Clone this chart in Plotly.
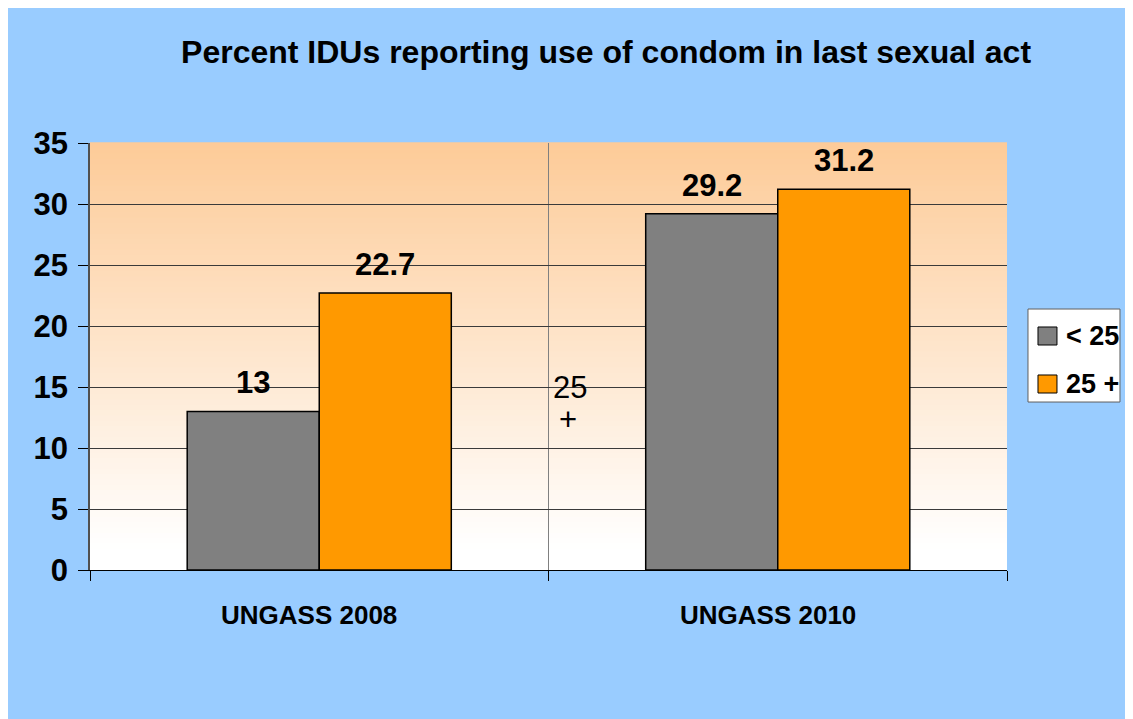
import plotly.graph_objects as go

# chart data
categories = ["UNGASS 2008", "UNGASS 2010"]
series_names = ["< 25", "25 +"]
under_25 = [13, 29.2]
over_25 = [22.7, 31.2]
label_under_25 = ["13", "29.2"]
label_over_25 = ["22.7", "31.2"]

colors = ["#808080", "#FF9900"]
font_family = "Arial, Liberation Sans, sans-serif"

fig = go.Figure()
for name, vals, col in zip(series_names, [under_25, over_25], colors):
    fig.add_trace(go.Bar(
        name=name,
        x=categories,
        y=vals,
        marker=dict(color=col, line=dict(color="black", width=1.5)),
        showlegend=False,
    ))

# value labels above the bars
for vals, labels, shift in [(under_25, label_under_25, -66), (over_25, label_over_25, 66)]:
    for cat, v, lab in zip(categories, vals, labels):
        fig.add_annotation(
            x=cat, y=v, text=f"<b>{lab}</b>", showarrow=False,
            xshift=shift, yanchor="bottom", yshift=9,
            font=dict(size=31, color="black", family=font_family),
        )

# category labels (sit slightly left of the category centre in the original)
for cat in categories:
    fig.add_annotation(
        x=cat, y=0, yref="paper", text=f"<b>{cat}</b>", showarrow=False,
        xshift=-10, yanchor="middle", yshift=-45,
        font=dict(size=26, color="black", family=font_family),
    )

# stray text box in the middle of the chart
fig.add_annotation(x=0.5235, xref="paper", y=15.0, yref="y", text="25",
                   showarrow=False, font=dict(size=31, color="black", family=font_family))
fig.add_annotation(x=0.521, xref="paper", y=12.3, yref="y", text="+",
                   showarrow=False, font=dict(size=31, color="black", family=font_family))

# vertical gradient for the plot area (orange at top fading to white)
top = (253, 203, 152)
n_strips = 80
for i in range(n_strips):
    t = (i + 0.5) / n_strips
    f = max(0.0, (t - 0.05) / 0.95)
    r, g, b = [round(255 + (c - 255) * f) for c in top]
    fig.add_shape(
        type="rect", xref="x domain", yref="y domain",
        x0=0, x1=1, y0=i / n_strips, y1=(i + 1) / n_strips + 0.002,
        fillcolor=f"rgb({r},{g},{b})", line=dict(width=0), layer="below",
    )

# legend box drawn by hand (bigger swatches than plotly's bar legend)
fig.add_shape(type="rect", xref="paper", yref="paper",
              x0=1.0229, x1=1.1232, y0=0.3934, y1=0.6112,
              fillcolor="white", line=dict(color="#606060", width=1))
legend_rows = [(0.5269, 0.5691, 0.548), (0.4145, 0.4567, 0.4356)]
for name, col, (y0, y1, yt) in zip(series_names, colors, legend_rows):
    fig.add_shape(type="rect", xref="paper", yref="paper",
                  x0=1.0338, x1=1.0545, y0=y0, y1=y1,
                  fillcolor=col, line=dict(color="black", width=1))
    fig.add_annotation(x=1.0621, xref="paper", y=yt, yref="paper",
                       text=f"<b>{name}</b>", showarrow=False,
                       xanchor="left", yanchor="middle",
                       font=dict(size=27, color="black", family=font_family))

fig.update_layout(
    width=1125,
    height=711,
    paper_bgcolor="#99CCFF",
    plot_bgcolor="rgba(0,0,0,0)",
    margin=dict(l=82, r=126, t=135, b=149),
    barmode="group",
    bargap=0.424,
    bargroupgap=0,
    font=dict(family=font_family, color="black"),
    title=dict(
        text="<b>Percent IDUs reporting use of condom in last sexual act</b>",
        x=0.5316, xanchor="center", y=0.9381, yanchor="middle",
        font=dict(size=32, color="black", family=font_family),
    ),
    showlegend=False,
)

fig.update_xaxes(
    type="category",
    tickson="boundaries",
    showgrid=True, gridcolor="#808080", gridwidth=1,
    showline=True, linecolor="black", linewidth=1,
    ticks="outside", ticklen=10, tickcolor="black",
    showticklabels=False,
)
fig.update_yaxes(
    range=[0, 35], dtick=5,
    showgrid=True, gridcolor="#3a3a3a", gridwidth=1,
    showline=True, linecolor="#505050", linewidth=1.5,
    ticks="outside", ticklen=10, tickcolor="black",
    tickfont=dict(size=31, family=font_family),
    tickprefix="<b>", ticksuffix="</b>",
    ticklabelstandoff=4,
    zeroline=False,
)

fig.write_html("out.html")
